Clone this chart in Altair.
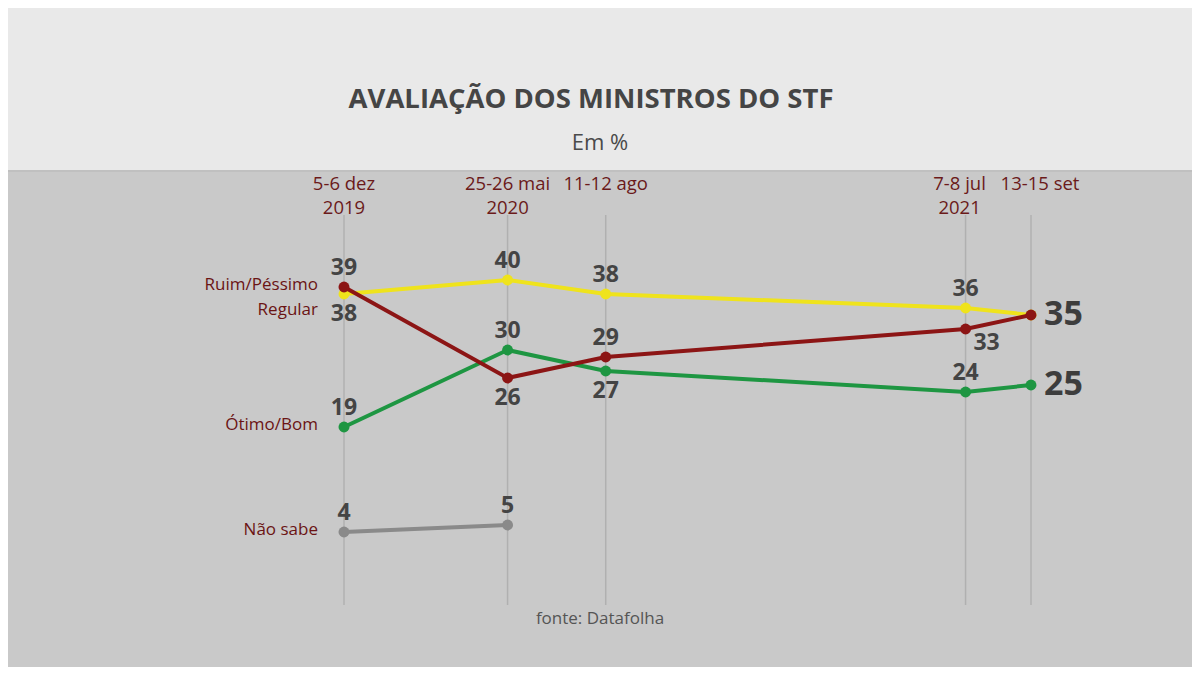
import altair as alt
import pandas as pd

# ---- data ----
dates = ["2019-12-05", "2020-05-25", "2020-08-11", "2021-07-07", "2021-09-13"]
date_labels = ["5-6 dez\n2019", "25-26 mai\n2020", "11-12 ago", "7-8 jul\n2021", "13-15 set"]

series_names = ["Não sabe", "Ótimo/Bom", "Regular", "Ruim/Péssimo"]
nao_sabe = [4, 5, None, None, None]
otimo_bom = [19, 30, 27, 24, 25]
regular = [38, 40, 38, 36, 35]
ruim_pessimo = [39, 26, 29, 33, 35]

# where each value label sits relative to its point
nao_sabe_lab = ["above", "above", "", "", ""]
otimo_bom_lab = ["above", "above", "below", "above", "end"]
regular_lab = ["below", "above", "above", "above", ""]
ruim_pessimo_lab = ["above", "below", "above", "belowright", "end"]

series_colors = ["#8a8a8a", "#1e9642", "#efe31c", "#8c1515"]

rows = []
for name, vals, labs in zip(series_names,
                            [nao_sabe, otimo_bom, regular, ruim_pessimo],
                            [nao_sabe_lab, otimo_bom_lab, regular_lab, ruim_pessimo_lab]):
    for d, v, p in zip(dates, vals, labs):
        if v is None:
            continue
        rows.append({"date": d, "serie": name, "valor": v, "pos": p})
df = pd.DataFrame(rows)
first = df.groupby("serie", as_index=False).first()
dates_df = pd.DataFrame({"date": dates, "label": date_labels})

W, H = 1184, 659
FONT = "Open Sans"

# the chart spaces the surveys by calendar month
month_calc = "year(datum.date) * 12 + month(datum.date)"
xs = alt.X("mes:Q", scale=alt.Scale(nice=False, zero=False, range=[336, 1023]), axis=None)
ys = alt.Y("valor:Q", scale=alt.Scale(domain=[0, 40], range=[552, 272], nice=False, zero=False), axis=None)

# background
bg_top = alt.Chart(dates_df).mark_rect(color="#e9e9e9").encode(
    x=alt.value(-8), x2=alt.value(W + 8), y=alt.value(-8), y2=alt.value(162))
bg_edge = alt.Chart(dates_df).mark_rect(color="#c0c0c0").encode(
    x=alt.value(-8), x2=alt.value(W + 8), y=alt.value(162), y2=alt.value(164))

dbase = alt.Chart(dates_df).transform_calculate(mes=month_calc)
grid = dbase.mark_rule(color="#b0b0b0", strokeWidth=1.5).encode(
    x=xs, y=alt.value(207), y2=alt.value(597))

date_style = dict(font=FONT, fontSize=18.5, color="#6b1a1a", baseline="alphabetic",
                  lineBreak="\n", lineHeight=24)
date_text = dbase.transform_filter(
    (alt.datum.label != date_labels[3]) & (alt.datum.label != date_labels[4])
).mark_text(**date_style).encode(x=xs, y=alt.value(182), text="label:N")
date_jul = dbase.transform_filter(alt.datum.label == date_labels[3]).mark_text(
    dx=-6, **date_style).encode(x=xs, y=alt.value(182), text="label:N")
date_set = dbase.transform_filter(alt.datum.label == date_labels[4]).mark_text(
    dx=9, **date_style).encode(x=xs, y=alt.value(182), text="label:N")

layers = [bg_top, bg_edge, grid, date_text, date_jul, date_set]

base_all = alt.Chart(df).transform_calculate(mes=month_calc)
for name, col in zip(series_names, series_colors):
    base = base_all.transform_filter(alt.datum.serie == name)
    layers.append(base.mark_line(color=col, strokeWidth=4).encode(x=xs, y=ys))
    layers.append(base.mark_circle(color=col, size=120, opacity=1).encode(x=xs, y=ys))

lab_style = dict(font=FONT, fontSize=23, fontWeight="bold", color="#444444", baseline="middle")
layers.append(base_all.transform_filter(alt.datum.pos == "above").mark_text(dy=-19, **lab_style)
              .encode(x=xs, y=ys, text="valor:Q"))
layers.append(base_all.transform_filter(alt.datum.pos == "below").mark_text(dy=20, **lab_style)
              .encode(x=xs, y=ys, text="valor:Q"))
layers.append(base_all.transform_filter(alt.datum.pos == "belowright").mark_text(dx=21, dy=14, **lab_style)
              .encode(x=xs, y=ys, text="valor:Q"))
layers.append(base_all.transform_filter(alt.datum.pos == "end").mark_text(
    font=FONT, fontSize=34, fontWeight="bold", color="#3d3d3d", baseline="middle", align="left", dx=13)
    .encode(x=xs, y=ys, text="valor:Q"))

name_style = dict(font=FONT, fontSize=17, color="#6b1414", align="right", baseline="middle")
names = alt.Chart(first)
layers.append(names.transform_filter(alt.datum.serie != "Regular").mark_text(dy=-2, **name_style)
              .encode(x=alt.value(310), y=ys, text="serie:N"))
layers.append(names.transform_filter(alt.datum.serie == "Regular").mark_text(dy=16, **name_style)
              .encode(x=alt.value(310), y=ys, text="serie:N"))

title = alt.Chart(dates_df.head(1)).mark_text(
    font=FONT, fontSize=27.5, fontWeight="bold", color="#454545", baseline="middle"
).encode(x=alt.value(583), y=alt.value(92), text=alt.value("AVALIAÇÃO DOS MINISTROS DO STF"))
subtitle = alt.Chart(dates_df.head(1)).mark_text(
    font=FONT, fontSize=22, color="#4a4a4a", baseline="middle"
).encode(x=alt.value(592), y=alt.value(135), text=alt.value("Em %"))
source = alt.Chart(dates_df.head(1)).mark_text(
    font=FONT, fontSize=17, color="#555555", baseline="middle"
).encode(x=alt.value(592), y=alt.value(611), text=alt.value("fonte: Datafolha"))
layers += [title, subtitle, source]

chart = alt.layer(*layers).properties(
    width=W, height=H, autosize=alt.AutoSizeParams(type="none"), padding=0, background="#c9c9c9"
).configure_view(strokeWidth=0)

chart.save("out.html", embed_options={"renderer": "svg", "actions": False})
